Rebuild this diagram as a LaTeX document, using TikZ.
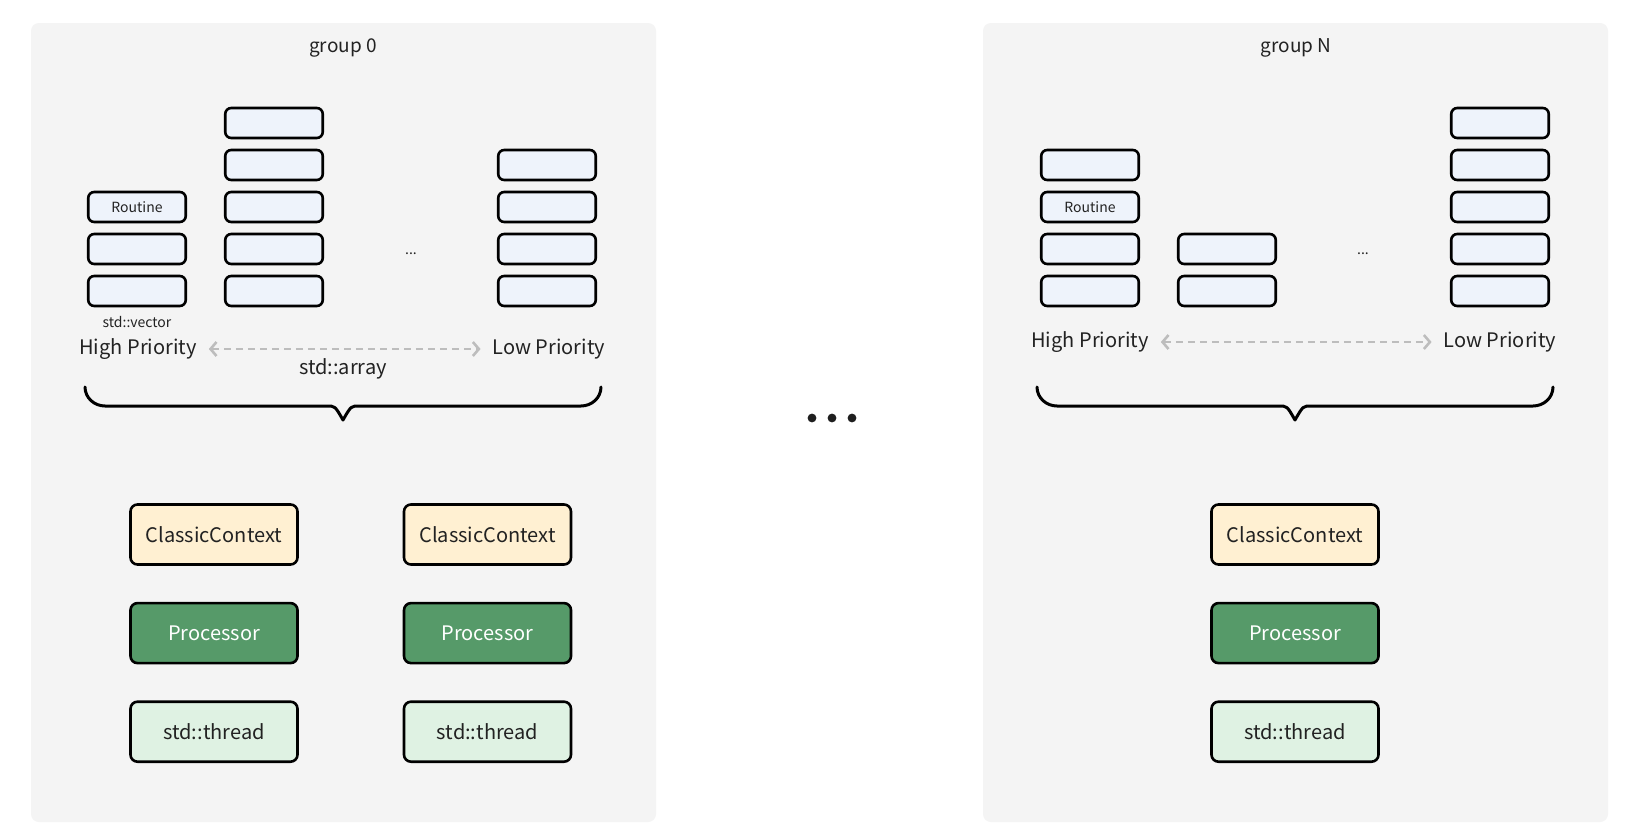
\documentclass[tikz,border=0pt]{standalone}
\usepackage{fontspec}
\setmainfont{Noto Sans CJK SC}
\usetikzlibrary{positioning, arrows.meta}

\definecolor{panelgray}{HTML}{F4F4F4}
\definecolor{slotblue}{HTML}{EEF3FB}
\definecolor{ctxyellow}{HTML}{FFF0D2}
\definecolor{procgreen}{HTML}{569A69}
\definecolor{threadgreen}{HTML}{DFF2E3}
\definecolor{inkgray}{HTML}{222222}
\definecolor{arrowgray}{HTML}{BDBDBD}

\tikzset{
  panel/.style={fill=panelgray, rounded corners=8pt, minimum width=625pt, minimum height=799pt},
  slot/.style={draw=black, line width=2.6pt, fill=slotblue, rounded corners=6pt,
    minimum width=97.5pt, minimum height=30pt, inner sep=0pt, font=\fontsize{14}{16}\selectfont, text=inkgray},
  unit/.style={draw=black, line width=2.6pt, rounded corners=7pt,
    minimum width=167pt, minimum height=60pt, inner sep=0pt, font=\fontsize{20}{23}\selectfont, text=inkgray},
  ctx/.style={unit, fill=ctxyellow},
  proc/.style={unit, fill=procgreen, text=white},
  thr/.style={unit, fill=threadgreen},
  label/.style={text=inkgray, font=\fontsize{20}{23}\selectfont, inner sep=0pt},
  small/.style={text=inkgray, font=\fontsize{14}{16}\selectfont, inner sep=0pt},
  prio/.style={draw=arrowgray, line width=2.6pt, dash pattern=on 7pt off 5pt,
    {Straight Barb[length=6pt, width=14pt]}-{Straight Barb[length=6pt, width=14pt]},
    shorten <=12pt, shorten >=12pt},
  brace/.style={draw=black, line width=3pt, line cap=round, line join=round},
}

\begin{document}
\begin{tikzpicture}[x=1pt, y=-1pt]
  \fill[white] (0,0) rectangle (1625,835);
  \useasboundingbox (0,0) rectangle (1625,835);

  % the two groups
  \node[panel] (grp0) at (343.5,422.5) {};
  \node[panel] (grpN) at (1295.5,422.5) {};
  \node[label, font=\fontsize{19}{21}\selectfont] (title0) at (343,48) {group 0};
  \node[label, font=\fontsize{19}{21}\selectfont] (titleN) at (1296,48) {group N};

  % group 0: queues of routines
  \foreach \x/\n/\q in {137/3/a, 274/5/b, 547/4/c}
    \foreach \i in {1,...,\n}
      \node[slot] (g0\q\i) at (\x,{291-42*(\i-1)}) {};
  \node[small] at (g0a3) {Routine};
  \node[small, below=9pt of g0a1] (vec0) {std::vector};
  \node[small] (dots0) at (411,254) {...};

  \node[label] (high0) at (138,349) {High Priority};
  \node[label] (low0) at (549,349) {Low Priority};
  \draw[prio] (high0) -- (low0);
  \node[label] (arr0) at (343,369) {std::array};

  \draw[brace] (85,387) to[out=-90,in=180] (105,406) -- (327,406)
    .. controls (335,406) .. (343,420) .. controls (351,406) .. (359,406) -- (581,406)
    to[out=0,in=-90] (601,387);

  % group N: queues of routines
  \foreach \x/\n/\q in {1090/4/a, 1227/2/b, 1500/5/c}
    \foreach \i in {1,...,\n}
      \node[slot] (gN\q\i) at (\x,{291-42*(\i-1)}) {};
  \node[small] at (gNa3) {Routine};
  \node[small] (dotsN) at (1363,254) {...};

  \node[label] (highN) at (1090,342) {High Priority};
  \node[label] (lowN) at (1500,342) {Low Priority};
  \draw[prio] (highN) -- (lowN);

  \draw[brace] (1037,387) to[out=-90,in=180] (1057,406) -- (1279,406)
    .. controls (1287,406) .. (1295,420) .. controls (1303,406) .. (1311,406) -- (1533,406)
    to[out=0,in=-90] (1553,387);

  % contexts, processors and threads
  \node[ctx] (ctx0a) at (214,534.5) {ClassicContext};
  \node[proc, below=36pt of ctx0a] (proc0a) {Processor};
  \node[thr, below=36pt of proc0a] (thr0a) {std::thread};

  \node[ctx] (ctx0b) at (487.5,534.5) {ClassicContext};
  \node[proc, below=36pt of ctx0b] (proc0b) {Processor};
  \node[thr, below=36pt of proc0b] (thr0b) {std::thread};

  \node[ctx] (ctxN) at (1295,534.5) {ClassicContext};
  \node[proc, below=36pt of ctxN] (procN) {Processor};
  \node[thr, below=36pt of procN] (thrN) {std::thread};

  % more groups in between
  \foreach \x in {812,832,852}
    \fill[black!88] (\x,418) circle (4.4pt);
\end{tikzpicture}
\end{document}
